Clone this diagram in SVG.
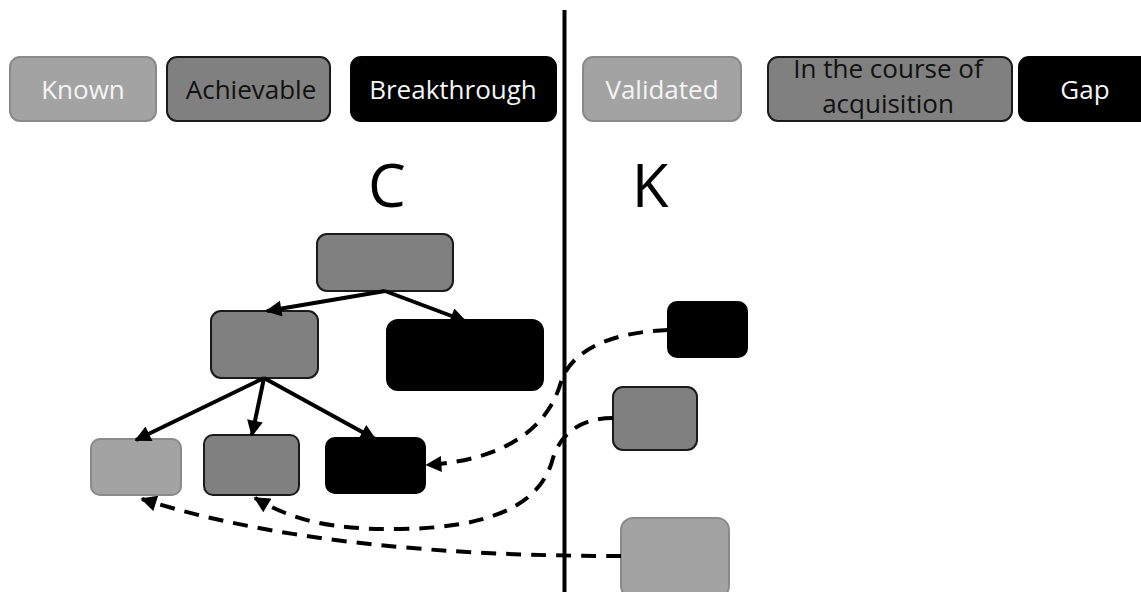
<svg xmlns="http://www.w3.org/2000/svg" width="1141" height="592" viewBox="0 0 1141 592">
  <style>
    .light { fill: #a3a3a3; stroke: #8a8a8a; stroke-width: 2; }
    .mid { fill: #808080; stroke: #1a1a1a; stroke-width: 2; }
    .dark { fill: #000000; stroke: #000000; stroke-width: 2; }
    .lbl { font-family: "Open Sans", "Liberation Sans", sans-serif; font-size: 26px; text-anchor: middle; }
    .w { fill: #f4f4f4; }
    .b { fill: #111111; }
    .big { font-family: "Open Sans", "Liberation Sans", sans-serif; font-size: 60px; fill: #000; text-anchor: middle; }
    .solid { fill: none; stroke: #000; stroke-width: 4; marker-end: url(#head); }
    .dash { fill: none; stroke: #000; stroke-width: 4; stroke-dasharray: 15 10; marker-end: url(#head); }
  </style>
  <defs>
    <marker id="head" viewBox="0 0 10 10" refX="9" refY="5" markerWidth="4.2" markerHeight="4" orient="auto" markerUnits="strokeWidth">
      <path d="M0,0 L10,5 L0,10 z" fill="#000"/>
    </marker>
  </defs>

  <!-- divider between the C and K spaces -->
  <line x1="564.5" y1="10" x2="564.5" y2="592" stroke="#000" stroke-width="4"/>

  <!-- legend: concept states -->
  <g id="legend-known">
    <rect class="light" x="10" y="57" width="146" height="64" rx="10"/>
    <text class="lbl w" x="83" y="99">Known</text>
  </g>
  <g id="legend-achievable">
    <rect class="mid" x="167" y="57" width="163" height="64" rx="10"/>
    <text class="lbl b" x="251" y="99">Achievable</text>
  </g>
  <g id="legend-breakthrough">
    <rect class="dark" x="351" y="57" width="205" height="64" rx="10"/>
    <text class="lbl w" x="453" y="99">Breakthrough</text>
  </g>

  <!-- legend: knowledge states -->
  <g id="legend-validated">
    <rect class="light" x="583" y="57" width="158" height="64" rx="10"/>
    <text class="lbl w" x="662" y="99">Validated</text>
  </g>
  <g id="legend-acquisition">
    <rect class="mid" x="768" y="57" width="244" height="64" rx="10"/>
    <text class="lbl b" x="888" y="78">In the course of</text>
    <text class="lbl b" x="888" y="113">acquisition</text>
  </g>
  <g id="legend-gap">
    <rect class="dark" x="1019" y="57" width="140" height="64" rx="10"/>
    <text class="lbl w" x="1085" y="99">Gap</text>
  </g>

  <!-- space titles -->
  <text class="big" x="387" y="207">C</text>
  <text class="big" x="650" y="207">K</text>

  <!-- C tree -->
  <g id="c-root"><rect class="mid" x="317" y="234" width="136" height="57" rx="10"/></g>
  <g id="c-left"><rect class="mid" x="211" y="311" width="107" height="67" rx="10"/></g>
  <g id="c-right"><rect class="dark" x="387" y="320" width="156" height="70" rx="11"/></g>
  <g id="c-leaf-known"><rect class="light" x="91" y="439" width="90" height="56" rx="9"/></g>
  <g id="c-leaf-achievable"><rect class="mid" x="204" y="435" width="95" height="60" rx="9"/></g>
  <g id="c-leaf-breakthrough"><rect class="dark" x="326" y="438" width="99" height="55" rx="9"/></g>

  <!-- K bases -->
  <g id="k-gap"><rect class="dark" x="668" y="302" width="79" height="55" rx="9"/></g>
  <g id="k-acquisition"><rect class="mid" x="613" y="387" width="84" height="63" rx="10"/></g>
  <g id="k-validated"><rect class="light" x="621" y="518" width="108" height="80" rx="12"/></g>

  <!-- connectors -->
  <g id="connectors">
    <path class="solid" d="M385,291 L267,311"/>
    <path class="solid" d="M385,291 L465,321"/>
    <path class="solid" d="M264,378 L136,440"/>
    <path class="solid" d="M264,378 L252,435"/>
    <path class="solid" d="M264,378 L375,439"/>
    <path class="dash" d="M668,330 C615,332 572,348 561,382 C548,428 505,460 427,465"/>
    <path class="dash" d="M613,418 C585,418 562,430 553,458 C540,510 480,528 400,529 C330,530 292,520 255,498"/>
    <path class="dash" d="M621,556 C500,556 300,550 142,499"/>
  </g>
</svg>
